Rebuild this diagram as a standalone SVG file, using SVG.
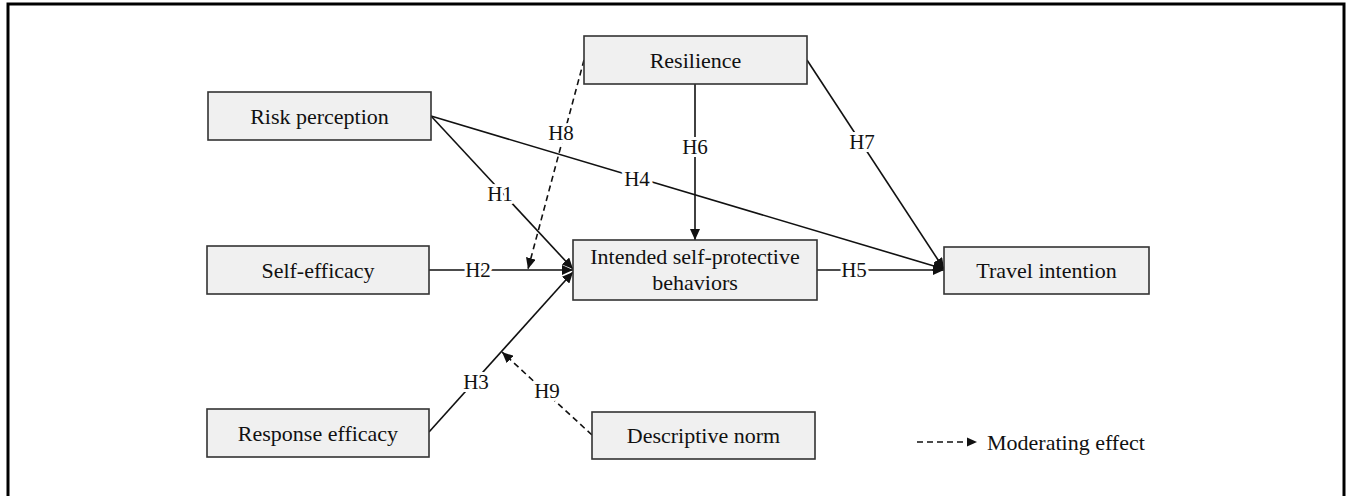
<svg xmlns="http://www.w3.org/2000/svg" width="1347" height="496" viewBox="0 0 1347 496">
<style>
.box{fill:#f0f0f0;stroke:#333;stroke-width:1.6}
.t{font-family:"Liberation Serif","Times New Roman",serif;font-size:22px;fill:#111;text-anchor:middle}
.lbl{font-family:"Liberation Serif","Times New Roman",serif;font-size:21px;fill:#111;text-anchor:middle;dominant-baseline:central;stroke:#fff;stroke-width:6;paint-order:stroke;stroke-linejoin:round}
.ln{fill:none;stroke:#111;stroke-width:1.6}
.ds{fill:none;stroke:#111;stroke-width:1.6;stroke-dasharray:6 4}
</style>
<defs>
<marker id="ah" markerUnits="userSpaceOnUse" markerWidth="12" markerHeight="10" refX="11" refY="5" orient="auto">
<path d="M0,0 L11,5 L0,10 z" fill="#111"/>
</marker>
<marker id="ahs" markerUnits="userSpaceOnUse" markerWidth="10" markerHeight="10" refX="10" refY="5" orient="auto">
<path d="M0,0.5 L10,5 L0,9.5 z" fill="#111"/>
</marker>
</defs>
<rect x="8" y="4" width="1336" height="500" fill="#fff" stroke="#000" stroke-width="3"/>
<g id="connectors">
<path id="e-h1" class="ln" d="M431,116 L573,269" marker-end="url(#ah)"/>
<path id="e-h4" class="ln" d="M431,116 L944,269" marker-end="url(#ah)"/>
<path id="e-h2" class="ln" d="M429,270 L573,270" marker-end="url(#ah)"/>
<path id="e-h3" class="ln" d="M429,432 L573,272" marker-end="url(#ah)"/>
<path id="e-h5" class="ln" d="M817,270 L944,270" marker-end="url(#ah)"/>
<path id="e-h6" class="ln" d="M695,84 L695,240" marker-end="url(#ah)"/>
<path id="e-h7" class="ln" d="M807,60 L944,269" marker-end="url(#ah)"/>
<path id="e-h8" class="ds" d="M584,60 L528,269" marker-end="url(#ah)"/>
<path id="e-h9" class="ds" d="M592,435 L502,352" marker-end="url(#ah)"/>
<path id="legend-line" class="ds" d="M917,442 L977,442" marker-end="url(#ahs)"/>
<text class="lbl" x="500" y="194">H1</text>
<text class="lbl" x="637" y="179">H4</text>
<text class="lbl" x="478" y="270">H2</text>
<text class="lbl" x="476" y="382">H3</text>
<text class="lbl" x="854" y="270">H5</text>
<text class="lbl" x="695" y="147">H6</text>
<text class="lbl" x="862" y="142">H7</text>
<text class="lbl" x="561" y="133">H8</text>
<text class="lbl" x="547" y="391">H9</text>
</g>
<g id="risk-perception">
<rect class="box" x="208" y="92" width="223" height="48"/>
<text class="t" x="319.5" y="124">Risk perception</text>
</g>
<g id="self-efficacy">
<rect class="box" x="207" y="246" width="222" height="48"/>
<text class="t" x="318" y="278">Self-efficacy</text>
</g>
<g id="response-efficacy">
<rect class="box" x="207" y="409" width="222" height="48"/>
<text class="t" x="318" y="441">Response efficacy</text>
</g>
<g id="resilience">
<rect class="box" x="584" y="36" width="223" height="48"/>
<text class="t" x="695.5" y="68">Resilience</text>
</g>
<g id="intended">
<rect class="box" x="573" y="240" width="244" height="60"/>
<text class="t" x="695" y="264">Intended self-protective</text>
<text class="t" x="695" y="290">behaviors</text>
</g>
<g id="travel-intention">
<rect class="box" x="944" y="247" width="205" height="47"/>
<text class="t" x="1046.5" y="278">Travel intention</text>
</g>
<g id="descriptive-norm">
<rect class="box" x="592" y="412" width="223" height="47"/>
<text class="t" x="703.5" y="443">Descriptive norm</text>
</g>
<g id="legend">
<text class="t" x="987" y="450" style="text-anchor:start">Moderating effect</text>
</g>
</svg>
